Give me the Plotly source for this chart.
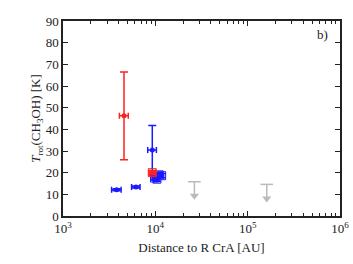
import plotly.graph_objects as go

# Red sources
red_x = [4580, 9270]
red_y = [46.3, 20.0]
red_xerr_lo = [500, 700]
red_xerr_hi = [510, 700]
red_yerr_lo = [20.3, 1.0]
red_yerr_hi = [20.2, 1.0]
red_box = [False, True]

# Blue sources
blue_x = [3810, 6180, 9270, 9800, 10400, 11000, 11700]
blue_y = [12.1, 13.4, 30.5, 17.5, 17.0, 19.0, 18.6]
blue_xerr_lo = [450, 650, 1000, 600, 600, 600, 600]
blue_xerr_hi = [450, 650, 1000, 600, 600, 600, 600]
blue_yerr_lo = [0.5, 0.5, 11.5, 1.0, 1.0, 1.0, 1.0]
blue_yerr_hi = [0.5, 0.5, 11.3, 1.0, 1.0, 1.0, 1.0]
blue_box = [False, False, False, True, True, True, True]

# Upper limits (gray)
ul_x = [26500, 161000]
ul_y = [15.8, 14.6]

xtick_vals = [1e3, 1e4, 1e5, 1e6]
xtick_text = ["10<sup>3</sup>", "10<sup>4</sup>", "10<sup>5</sup>", "10<sup>6</sup>"]
ytick_vals = list(range(0, 100, 10))

RED = "#ff2020"
BLUE = "#1a1aff"
GRAY = "#bbbbbb"

fig = go.Figure()

def add_points(xs, ys, xlo, xhi, ylo, yhi, boxes, color):
    fig.add_trace(go.Scatter(
        x=xs, y=ys, mode="markers",
        marker=dict(color=color, size=5, symbol="circle"),
        error_x=dict(type="data", symmetric=False, array=xhi, arrayminus=xlo,
                     color=color, thickness=1.5, width=3),
        error_y=dict(type="data", symmetric=False, array=yhi, arrayminus=ylo,
                     color=color, thickness=1.5, width=4),
        showlegend=False))
    bx = [x for x, b in zip(xs, boxes) if b]
    by = [y for y, b in zip(ys, boxes) if b]
    fig.add_trace(go.Scatter(
        x=bx, y=by, mode="markers",
        marker=dict(color=color, size=8, symbol="square-open",
                    line=dict(color=color, width=1)),
        showlegend=False))

add_points(blue_x, blue_y, blue_xerr_lo, blue_xerr_hi, blue_yerr_lo, blue_yerr_hi, blue_box, BLUE)
add_points(red_x, red_y, red_xerr_lo, red_xerr_hi, red_yerr_lo, red_yerr_hi, red_box, RED)

# Upper limits: cap + line + arrow head
arrow_len = 6.5
for ux, uy in zip(ul_x, ul_y):
    fig.add_trace(go.Scatter(
        x=[ux, ux], y=[uy, uy - arrow_len], mode="lines",
        line=dict(color=GRAY, width=1.5), showlegend=False))
    fig.add_trace(go.Scatter(
        x=[ux], y=[uy], mode="markers",
        marker=dict(color=GRAY, size=9, symbol="line-ew", line=dict(color=GRAY, width=1.5)),
        showlegend=False))
    fig.add_trace(go.Scatter(
        x=[ux], y=[uy - arrow_len], mode="markers",
        marker=dict(color=GRAY, size=8, symbol="triangle-down"),
        showlegend=False))

minor_vals = [m * 10 ** d for d in range(3, 6) for m in range(2, 10)]

FAMILY = "Times New Roman, Liberation Serif, Times, serif"
font = dict(family=FAMILY, size=13, color="#222")
tfont = dict(family=FAMILY, size=13, color="#222")

fig.update_layout(
    width=353, height=264,
    margin=dict(l=63, r=13, t=21, b=48),
    paper_bgcolor="white", plot_bgcolor="white",
    font=font,
    xaxis=dict(type="log", range=[3, 6], tickvals=xtick_vals, ticktext=xtick_text,
               ticks="inside", ticklen=5, tickwidth=1, tickcolor="#222",
               showline=True, linecolor="#222", linewidth=1.5, mirror="ticks",
               showgrid=False, zeroline=False, automargin=False,
               minor=dict(tickvals=minor_vals, ticks="inside", ticklen=3, tickcolor="#222"),
               title=dict(text="Distance to R CrA [AU]", standoff=8, font=font),
               tickfont=tfont),
    yaxis=dict(range=[0, 90], tickvals=ytick_vals,
               ticks="inside", ticklen=5, tickwidth=1, tickcolor="#222",
               showline=True, linecolor="#222", linewidth=1.5, mirror="ticks",
               showgrid=False, zeroline=False, automargin=False,
               title=dict(text="<i>T</i><sub>rot</sub>(CH<sub>3</sub>OH) [K]", standoff=2, font=font),
               tickfont=font),
)

fig.add_annotation(text="b)", xref="paper", yref="paper", x=0.965, y=0.93,
                   xanchor="right", yanchor="middle", showarrow=False, font=font)

fig.write_html("out.html", config={"displayModeBar": False},
               post_script="document.body.style.margin='0';document.body.style.overflow='hidden';")
